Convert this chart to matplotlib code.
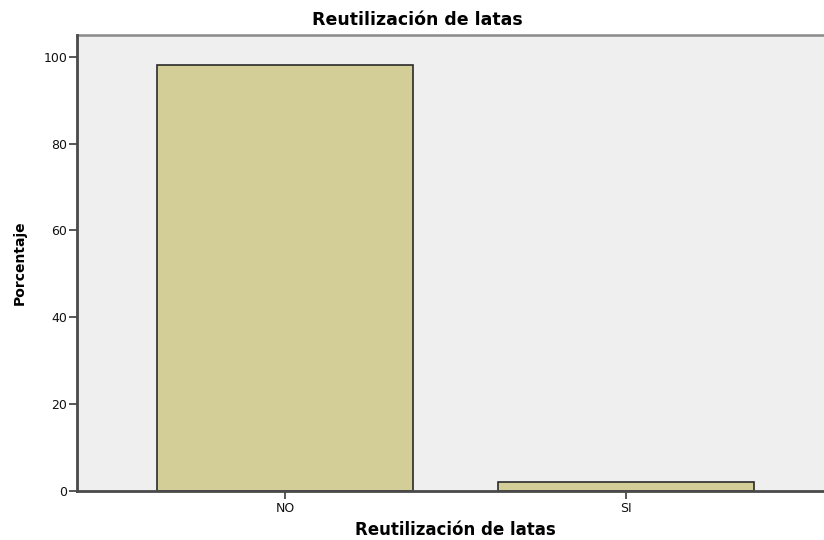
import matplotlib
matplotlib.use("Agg")
import matplotlib.pyplot as plt
import numpy as np

categories = ["NO", "SI"]
percentages = [98.1, 1.9]
y_ticks = [0, 20, 40, 60, 80, 100]
title_text = "Reutilización de latas"
x_label = "Reutilización de latas"
y_label = "Porcentaje"

W, H = 824, 540
fig = plt.figure(figsize=(W / 100, H / 100), dpi=100)
left_px, right_px, top_px, bottom_px = 77, 834, 35, 490.5
ax_w, ax_h = right_px - left_px, bottom_px - top_px
ax = fig.add_axes([left_px / W, (H - bottom_px) / H, ax_w / W, ax_h / H])
ax.set_facecolor("#EFEFEF")

x = np.arange(len(categories))
ax.bar(x, percentages, width=0.75, color="#D3CE97", edgecolor="#2b2b2b",
       linewidth=1.2, zorder=3)

ax.set_xlim(-0.61, 1.61)
ax.set_ylim(0, 105.1)
ax.set_xticks(x)
ax.set_xticklabels(categories)
ax.set_yticks(y_ticks)

for s in ["left", "bottom"]:
    ax.spines[s].set_color("#4a4a4a")
    ax.spines[s].set_linewidth(2.0)
    ax.spines[s].set_zorder(4)
ax.spines["top"].set_color("#8a8a8a")
ax.spines["top"].set_linewidth(1.8)
ax.spines["right"].set_color("#8a8a8a")
ax.spines["right"].set_linewidth(1.8)

ax.tick_params(axis="both", direction="out", length=5.5, width=1.3,
               color="#4a4a4a", labelsize=9, labelcolor="#111111", pad=1.5)
ax.tick_params(axis="x", pad=3)

ax.set_xlabel(x_label, fontsize=12, fontweight="bold", va="center",
              family="DejaVu Sans")
ax.xaxis.set_label_coords(0.5, -(530 - bottom_px) / ax_h)
ax.set_ylabel(y_label, fontsize=10, fontweight="bold", va="center",
              family="DejaVu Sans")
ax.yaxis.set_label_coords(-(left_px - 20) / ax_w, 0.5 + (262.5 - 262.75) / ax_h)
ax.set_title(title_text, fontsize=12.5, fontweight="bold", pad=7,
             x=(417 - left_px) / ax_w)

fig.savefig("out.png", dpi=100)
